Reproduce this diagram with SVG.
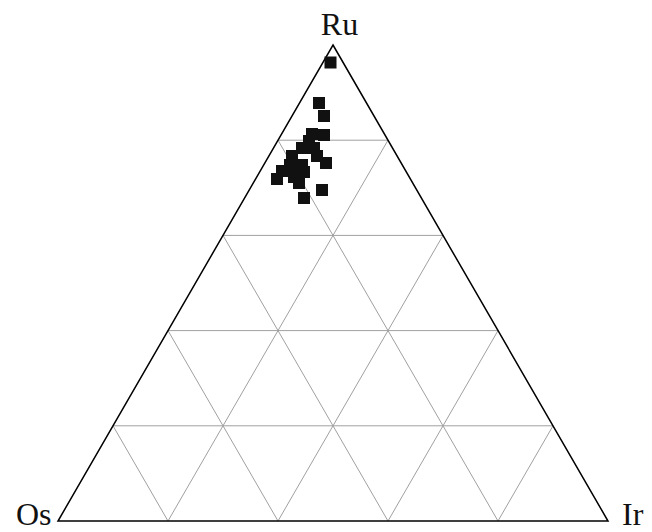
<svg xmlns="http://www.w3.org/2000/svg" width="652" height="532" viewBox="0 0 652 532">
<style>
.grid{stroke:#a0a0a0;stroke-width:1;fill:none}
.frame{stroke:#000;stroke-width:1.5;fill:none;stroke-linejoin:miter}
.lbl{font-family:"Liberation Serif","Times New Roman",serif;font-size:32px;fill:#111}
.pt{fill:#111}
</style>
<defs><rect id="sq" x="-6" y="-6" width="12" height="12"/></defs>
<rect width="652" height="532" fill="#fff"/>
<g id="grid" class="grid">
<line x1="278" y1="140.2" x2="388" y2="140.2"/>
<line x1="223" y1="235.4" x2="443" y2="235.4"/>
<line x1="168" y1="330.6" x2="498" y2="330.6"/>
<line x1="113" y1="425.8" x2="553" y2="425.8"/>
<line x1="168" y1="521" x2="388" y2="140.2"/>
<line x1="278" y1="521" x2="443" y2="235.4"/>
<line x1="388" y1="521" x2="498" y2="330.6"/>
<line x1="498" y1="521" x2="553" y2="425.8"/>
<line x1="168" y1="521" x2="113" y2="425.8"/>
<line x1="278" y1="521" x2="168" y2="330.6"/>
<line x1="388" y1="521" x2="223" y2="235.4"/>
<line x1="498" y1="521" x2="278" y2="140.2"/>
</g>
<g id="frame"><polygon class="frame" points="333,45 608,521 58,521"/></g>
<g id="labels">
<text id="ru" class="lbl" x="339.5" y="35" text-anchor="middle">Ru</text>
<text id="os" class="lbl" x="16" y="525">Os</text>
<text id="ir" class="lbl" x="622" y="525">Ir</text>
</g>
<g id="points" class="pt">
<use href="#sq" x="330.5" y="62.5"/>
<use href="#sq" x="319" y="103"/>
<use href="#sq" x="324" y="116"/>
<use href="#sq" x="312" y="134"/>
<use href="#sq" x="324" y="135"/>
<use href="#sq" x="309" y="141"/>
<use href="#sq" x="302" y="148"/>
<use href="#sq" x="314" y="148"/>
<use href="#sq" x="317" y="156"/>
<use href="#sq" x="326" y="163"/>
<use href="#sq" x="292" y="156"/>
<use href="#sq" x="290" y="165"/>
<use href="#sq" x="302" y="165"/>
<use href="#sq" x="282" y="171"/>
<use href="#sq" x="277" y="179"/>
<use href="#sq" x="294" y="177"/>
<use href="#sq" x="299" y="183"/>
<use href="#sq" x="304" y="172"/>
<use href="#sq" x="322" y="190"/>
<use href="#sq" x="304" y="198"/>
</g>
</svg>
